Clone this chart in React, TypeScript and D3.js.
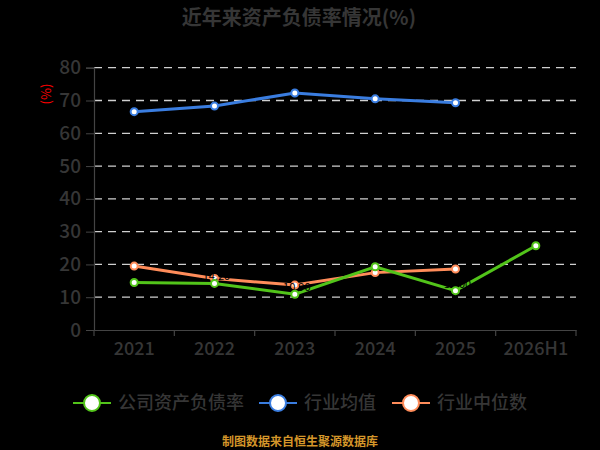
import { useRef, useEffect } from "react";
import * as d3 from "d3";

// ── Data ──────────────────────────────────────────────────────────────────────

const CATEGORIES = ["2021", "2022", "2023", "2024", "2025", "2026H1"];
const COMPANY = [14.5, 14.2, 10.9, 19.3, 12.0, 25.7];
const INDUSTRY_AVG = [66.6, 68.3, 72.3, 70.5, 69.3];
const INDUSTRY_MEDIAN = [19.5, 15.7, 13.7, 17.5, 18.6];
const Y_TICKS = [0, 10, 20, 30, 40, 50, 60, 70, 80];

const SERIES = [
  { name: "公司资产负债率", color: "#52c41a", values: COMPANY, labels: true },
  { name: "行业均值", color: "#3a7de0", values: INDUSTRY_AVG, labels: false },
  { name: "行业中位数", color: "#ff8c5a", values: INDUSTRY_MEDIAN, labels: false },
];

// ── Constants ─────────────────────────────────────────────────────────────────

const W = 600;
const H = 450;
const MARGIN = { top: 67.7, right: 24, bottom: 120, left: 94 };
const FONT = "'Noto Sans CJK SC', 'Microsoft YaHei', sans-serif";
const TEXT = "#363636";

function render(svg: SVGSVGElement): void {
  const root = d3.select(svg);
  root.selectAll("*").remove();

  const innerW = W - MARGIN.left - MARGIN.right;
  const innerH = H - MARGIN.top - MARGIN.bottom;

  root.append("rect").attr("width", W).attr("height", H).attr("fill", "#000");

  // Title
  root
    .append("text")
    .attr("x", W / 2 - 1)
    .attr("y", 25)
    .attr("text-anchor", "middle")
    .attr("fill", TEXT)
    .attr("font-size", 20)
    .attr("font-weight", "bold")
    .attr("font-family", FONT)
    .text("近年来资产负债率情况(%)");

  const g = root.append("g").attr("transform", `translate(${MARGIN.left},${MARGIN.top})`);

  const x = d3.scaleBand().domain(CATEGORIES).range([0, innerW]);
  const y = d3.scaleLinear().domain([0, 80]).range([innerH, 0]);
  const cx = (c: string) => (x(c) ?? 0) + x.bandwidth() / 2;

  // Grid lines
  g.selectAll(".grid")
    .data(Y_TICKS.filter((t) => t > 0))
    .join("line")
    .attr("x1", 0)
    .attr("x2", innerW)
    .attr("y1", (d) => y(d))
    .attr("y2", (d) => y(d))
    .attr("stroke", "#d0d0d0")
    .attr("stroke-width", 1.3)
    .attr("stroke-dasharray", "8,6");

  // Y axis
  const yAxis = g
    .append("g")
    .call(d3.axisLeft(y).tickValues(Y_TICKS).tickSize(8).tickPadding(5));
  yAxis.select(".domain").attr("stroke", "#444").attr("stroke-width", 1.2);
  yAxis.selectAll("line").attr("stroke", "#444");
  yAxis
    .selectAll("text")
    .attr("fill", TEXT)
    .attr("font-size", 19)
    .attr("font-weight", 500)
    .attr("font-family", FONT);

  // X axis
  const xAxis = g
    .append("g")
    .attr("transform", `translate(0,${innerH})`)
    .call(d3.axisBottom(x).tickSize(0).tickPadding(12));
  xAxis.select(".domain").attr("stroke", "#444").attr("stroke-width", 1.2);
  xAxis
    .selectAll("text")
    .attr("fill", TEXT)
    .attr("font-size", 18)
    .attr("font-weight", 500)
    .attr("font-family", FONT);
  // boundary ticks
  g.append("g")
    .attr("transform", `translate(0,${innerH})`)
    .selectAll("line")
    .data(d3.range(CATEGORIES.length + 1))
    .join("line")
    .attr("x1", (i) => i * x.bandwidth())
    .attr("x2", (i) => i * x.bandwidth())
    .attr("y1", 0)
    .attr("y2", 6)
    .attr("stroke", "#444")
    .attr("stroke-width", 1.2);

  // Y unit label
  root
    .append("text")
    .attr("transform", `translate(51,94) rotate(-90)`)
    .attr("text-anchor", "middle")
    .attr("fill", "#ff0000")
    .attr("font-size", 13)
    .attr("font-family", FONT)
    .text("(%)");

  // Lines (drawn back to front: median, avg, company on top)
  const line = d3
    .line<number>()
    .x((_, i) => cx(CATEGORIES[i]))
    .y((d) => y(d));

  [...SERIES].reverse().forEach((s) => {
    g.append("path")
      .datum(s.values)
      .attr("fill", "none")
      .attr("stroke", s.color)
      .attr("stroke-width", 3)
      .attr("d", line);

    if (s.labels) {
      g.selectAll(null)
        .data(s.values)
        .join("text")
        .attr("x", (_, i) => cx(CATEGORIES[i]) + 2)
        .attr("y", (d) => y(d) - 3)
        .attr("text-anchor", "middle")
        .attr("fill", "#000")
        .attr("font-size", 11)
        .attr("font-family", FONT)
        .text((d) => d.toFixed(2));
    }

    g.selectAll(null)
      .data(s.values)
      .join("circle")
      .attr("cx", (_, i) => cx(CATEGORIES[i]))
      .attr("cy", (d) => y(d))
      .attr("r", 3.5)
      .attr("fill", "#fff")
      .attr("stroke", s.color)
      .attr("stroke-width", 2);
  });

  // Legend
  const legendX = [73, 259, 392];
  const legendY = 403;
  SERIES.forEach((s, i) => {
    const lg = root.append("g").attr("transform", `translate(${legendX[i]},${legendY})`);
    lg.append("line")
      .attr("x1", 0)
      .attr("x2", 38)
      .attr("y1", 0)
      .attr("y2", 0)
      .attr("stroke", s.color)
      .attr("stroke-width", 2);
    lg.append("circle")
      .attr("cx", 19)
      .attr("cy", 0)
      .attr("r", 8)
      .attr("fill", "#fff")
      .attr("stroke", s.color)
      .attr("stroke-width", 2);
    lg.append("text")
      .attr("x", 45)
      .attr("y", 0)
      .attr("dy", "0.35em")
      .attr("fill", TEXT)
      .attr("font-size", 18)
      .attr("font-weight", 500)
      .attr("font-family", FONT)
      .text(s.name);
  });

  // Source note
  root
    .append("text")
    .attr("x", W / 2)
    .attr("y", 446)
    .attr("text-anchor", "middle")
    .attr("fill", "#d4962a")
    .attr("font-size", 12)
    .attr("font-weight", "bold")
    .attr("font-family", FONT)
    .text("制图数据来自恒生聚源数据库");
}

export default function App() {
  const svgRef = useRef<SVGSVGElement>(null);

  useEffect(() => {
    if (svgRef.current) render(svgRef.current);
  }, []);

  return (
    <svg
      ref={svgRef}
      width={W}
      height={H}
      viewBox={`0 0 ${W} ${H}`}
      style={{ position: "absolute", left: 0, top: 0, display: "block" }}
    />
  );
}
